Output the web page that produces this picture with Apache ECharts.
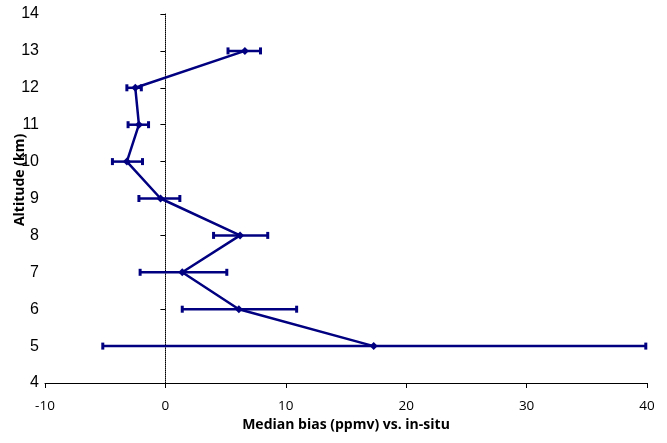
<!DOCTYPE html>
<html>
<head>
<meta charset="utf-8">
<script src="https://cdn.jsdelivr.net/npm/echarts@6/dist/echarts.min.js"></script>
<style>
html,body{margin:0;padding:0;background:#fff;}
#chart{width:667px;height:443px;}
</style>
</head>
<body>
<div id="chart"></div>
<script>
// Data
const altitudes = [5, 6, 7, 8, 9, 10, 11, 12, 13];
const medianBias = [17.3, 6.1, 1.4, 6.2, -0.4, -3.2, -2.2, -2.5, 6.6];
const errLow = [-5.2, 1.4, -2.1, 4.0, -2.2, -4.4, -3.1, -3.2, 5.2];
const errHigh = [39.9, 10.9, 5.1, 8.5, 1.2, -1.9, -1.4, -2.0, 7.9];

const navy = '#000080';

const lineData = altitudes.map((a, i) => [medianBias[i], a]);
const errData = altitudes.map((a, i) => [errLow[i], errHigh[i], a]);

const chart = echarts.init(document.getElementById('chart'), null, {renderer: 'canvas'});
chart.setOption({
  animation: false,
  backgroundColor: '#fff',
  grid: {left: 45, right: 20, top: 14, bottom: 60, containLabel: false},
  xAxis: {
    type: 'value', min: -10, max: 40, interval: 10,
    name: 'Median bias (ppmv) vs. in-situ', nameLocation: 'middle', nameGap: 33,
    nameTextStyle: {fontFamily: 'Open Sans', fontWeight: 'bold', fontSize: 14, color: '#000'},
    axisLine: {onZero: false, lineStyle: {color: '#000', width: 1}},
    axisTick: {show: true, length: 5, lineStyle: {color: '#000'}},
    axisLabel: {fontFamily: 'Open Sans', fontSize: 13.5, color: '#000', margin: 16},
    splitLine: {show: false}
  },
  yAxis: {
    type: 'value', min: 4, max: 14, interval: 1,
    axisLine: {onZero: true, lineStyle: {color: '#000', width: 1, type: 'dotted'}},
    axisTick: {show: true, length: 5, lineStyle: {color: '#000'}},
    axisLabel: {fontFamily: 'Liberation Sans', fontSize: 16, color: '#000', margin: 6},
    splitLine: {show: false}
  },
  graphic: [{
    type: 'text', x: 20, y: 180, rotation: Math.PI / 2,
    style: {text: 'Altitude (km)', fontFamily: 'Open Sans', fontWeight: 'bold', fontSize: 14, fill: '#000', textAlign: 'center', textVerticalAlign: 'middle'}
  }],
  series: [
    {
      type: 'custom',
      data: errData,
      z: 2,
      renderItem: function (params, api) {
        const y = api.value(2);
        const p1 = api.coord([api.value(0), y]);
        const p2 = api.coord([api.value(1), y]);
        const style = {stroke: navy, lineWidth: 2.5};
        const cap = 3.5;
        return {
          type: 'group',
          children: [
            {type: 'line', shape: {x1: p1[0], y1: p1[1], x2: p2[0], y2: p2[1]}, style: style},
            {type: 'line', shape: {x1: p1[0], y1: p1[1] - cap, x2: p1[0], y2: p1[1] + cap}, style: {stroke: navy, lineWidth: 3}},
            {type: 'line', shape: {x1: p2[0], y1: p2[1] - cap, x2: p2[0], y2: p2[1] + cap}, style: {stroke: navy, lineWidth: 3}}
          ]
        };
      }
    },
    {
      type: 'line',
      data: lineData,
      z: 3,
      symbol: 'diamond',
      symbolSize: 8,
      lineStyle: {color: navy, width: 2.5},
      itemStyle: {color: navy},
      silent: true
    }
  ]
});
</script>
</body>
</html>
